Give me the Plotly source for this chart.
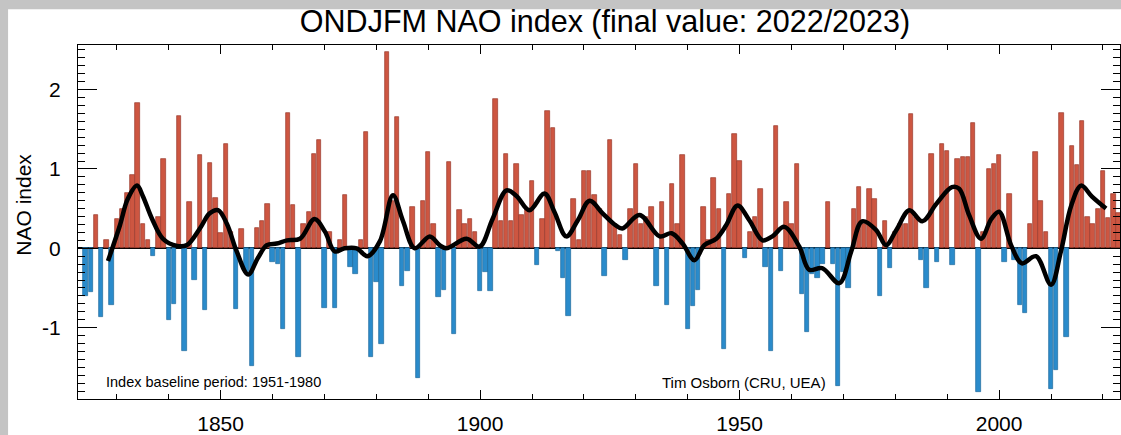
import plotly.graph_objects as go

# ---- data ----
years = list(range(1824, 2024))
nao = [
    -0.60, -0.55, 0.42, -0.87, 0.10, -0.71,                        # 1824-1829
    0.37, 0.50, 0.70, 0.92, 1.83, 0.30, 0.10, -0.10, 0.40, 1.12,   # 1830s
    -0.90, -0.70, 1.67, -1.29, 0.58, -0.40, 1.18, -0.78, 1.07, 0.63,  # 1840s
    0.19, 1.31, 0.20, -0.77, 0.24, -0.30, -1.48, 0.25, 0.35, 0.56,   # 1850s
    -0.17, -0.20, -1.02, 1.71, 0.54, -1.37, 0.30, 0.46, 1.19, 1.37,  # 1860s
    -0.75, 0.20, -0.75, 0.10, 0.67, -0.23, -0.33, 0.10, 1.46, -1.37, # 1870s
    -0.42, -1.21, 2.48, 0.60, 1.66, -0.48, -0.29, 0.52, -1.63, 0.60, # 1880s
    1.21, 0.31, -0.62, -0.52, 1.09, -1.08, 0.48, 0.30, 0.37, 0.20,   # 1890s
    -0.54, -0.30, -0.54, 1.88, 0.35, 1.19, 0.35, 1.06, 0.42, 0.50,   # 1900s
    0.85, -0.21, 0.37, 1.73, 1.52, -0.04, -0.37, -0.85, 0.62, 0.10,  # 1910s
    0.98, 0.98, 0.67, 0.50, -0.35, 1.37, 0.31, 0.17, -0.15, 0.50,    # 1920s
    1.06, 0.30, 0.40, 0.52, -0.48, 0.58, -0.71, 0.81, 0.30, 1.17,    # 1930s
    -1.02, -0.73, -0.52, 0.52, 0.10, 0.88, 0.50, -1.27, 0.69, 1.44,  # 1940s
    1.10, -0.12, 0.20, 0.40, 0.75, -0.23, -1.29, 1.54, -0.29, 0.58,  # 1950s
    0.30, 1.06, -0.58, -1.06, -0.33, -0.37, -0.20, 0.58, -0.20, -1.73,  # 1960s
    -0.30, -0.50, 0.50, 0.77, 0.30, 0.75, 0.62, -0.60, 0.35, -0.25,  # 1970s
    0.20, 0.30, 0.30, 1.69, 0.40, -0.15, -0.50, 1.19, -0.17, 1.31,   # 1980s
    1.23, -0.21, 1.13, 1.15, 1.15, 1.58, -1.81, 0.20, 1.00, 1.06,    # 1990s
    1.17, -0.17, 0.69, -0.15, -0.71, -0.81, 0.30, 1.21, 0.60, 0.20,  # 2000s
    -1.77, -1.54, 1.71, -1.12, 1.29, 1.05, 1.60, 0.40, 0.30, 0.50,   # 2010s
    0.98, 0.38, 0.69, 0.45,                                          # 2020s
]

smooth_years = [1828.3, 1830.6, 1832.1, 1833.9, 1835.0, 1836.8, 1838.9, 1841.6, 1843.5,
                1846.0, 1847.9, 1849.5, 1851.2, 1853.1, 1855.3, 1857.2, 1858.9, 1860.8,
                1862.8, 1865.3, 1868.1, 1870.1, 1872.0, 1873.9, 1876.2, 1878.3, 1880.7,
                1883.2, 1885.1, 1887.4, 1890.3, 1892.2, 1893.5, 1897.4, 1899.9, 1902.4,
                1905.1, 1907.0, 1909.5, 1912.4, 1914.3, 1916.6, 1918.8, 1921.1, 1923.6,
                1925.9, 1927.4, 1930.7, 1934.6, 1936.9, 1939.0, 1941.3, 1943.2, 1945.5,
                1947.4, 1949.6, 1951.9, 1954.4, 1956.3, 1958.6, 1961.5, 1963.4, 1965.9,
                1969.2, 1971.5, 1973.6, 1976.3, 1978.2, 1980.2, 1982.7, 1985.2, 1987.9,
                1990.9, 1992.3, 1994.2, 1996.5, 1998.5, 2000.0, 2002.3, 2004.4, 2007.1,
                2010.0, 2011.9, 2013.9, 2015.8, 2017.9, 2020.6]
smooth_vals = [-0.16, 0.29, 0.62, 0.79, 0.66, 0.37, 0.12, 0.03, 0.04,
               0.25, 0.44, 0.48, 0.31, -0.04, -0.33, -0.12, 0.04, 0.06,
               0.10, 0.12, 0.37, 0.21, -0.04, 0.00, 0.00, -0.10, 0.09,
               0.67, 0.35, 0.00, 0.15, 0.04, 0.00, 0.12, 0.02, 0.37,
               0.73, 0.66, 0.48, 0.69, 0.46, 0.15, 0.35, 0.60, 0.44,
               0.30, 0.25, 0.42, 0.15, 0.19, 0.06, -0.15, 0.04, 0.12,
               0.29, 0.54, 0.35, 0.10, 0.15, 0.27, 0.02, -0.27, -0.25,
               -0.44, -0.04, 0.34, 0.23, 0.04, 0.23, 0.48, 0.34, 0.56,
               0.77, 0.75, 0.42, 0.12, 0.37, 0.46, 0.04, -0.19, -0.10,
               -0.46, -0.04, 0.54, 0.79, 0.65, 0.50]

title_text = "ONDJFM NAO index (final value: 2022/2023)"
ylabel = "NAO index"
note_left = "Index baseline period: 1951-1980"
note_right = "Tim Osborn (CRU, UEA)"
xtick_vals = [1850, 1900, 1950, 2000]
ytick_vals = [-1, 0, 1, 2]

RED = "#cd5641"
RED_EDGE = "#9a3b2e"
BLUE = "#2a8bcb"
BLUE_EDGE = "#1f6a9c"
FONT = "Liberation Sans, Arial, Helvetica, sans-serif"

W, H = 1121, 435
L, R, T, B = 78, 0, 45, 33

fill = [RED if v >= 0 else BLUE for v in nao]
edge = [RED_EDGE if v >= 0 else BLUE_EDGE for v in nao]

fig = go.Figure()
fig.add_trace(go.Bar(x=years, y=nao, width=0.85,
                     marker=dict(color=fill, line=dict(color=edge, width=0.7)),
                     showlegend=False))
fig.add_trace(go.Scatter(x=smooth_years, y=smooth_vals, mode="lines",
                         line=dict(color="black", width=4.5, shape="spline", smoothing=1.0),
                         showlegend=False))

plot_w = W - L - R
plot_h = H - T - B

def px_x(p):
    return (p - L) / plot_w

def px_y(p):
    return (H - B - p) / plot_h

fig.update_layout(
    width=W, height=H,
    margin=dict(l=L, r=R, t=T, b=B, pad=0),
    paper_bgcolor="#c4c4c4",
    plot_bgcolor="white",
    font=dict(family=FONT, color="black"),
    bargap=0,
    title=dict(text=title_text, x=605 / W, xanchor="center", y=1 - 21 / H,
               yanchor="middle", yref="container", xref="container",
               font=dict(size=30.5, family=FONT, color="black")),
    shapes=[dict(type="rect", xref="paper", yref="paper",
                 x0=px_x(8), x1=px_x(W + 5), y0=px_y(H + 5), y1=px_y(9),
                 fillcolor="white", line=dict(width=0), layer="below")],
    annotations=[
        dict(text=ylabel, textangle=-90, x=px_x(24), y=px_y(206), xref="paper", yref="paper",
             showarrow=False, xanchor="center", yanchor="middle", font=dict(size=21)),
        dict(text=note_left, x=px_x(104), y=px_y(385), xref="paper", yref="paper",
             showarrow=False, xanchor="left", yanchor="middle", font=dict(size=14.5)),
        dict(text=note_right, x=px_x(829), y=px_y(385), xref="paper", yref="paper",
             showarrow=False, xanchor="right", yanchor="middle", font=dict(size=15)),
    ],
)

fig.update_xaxes(range=[1822.52, 2023.29], tickvals=xtick_vals,
                 ticks="inside", ticklen=9, tickwidth=1, tickcolor="black",
                 showline=True, linecolor="black", linewidth=1.2, mirror="allticks",
                 showgrid=False, zeroline=False,
                 tickfont=dict(size=21, family=FONT), ticklabelstandoff=6,
                 minor=dict(dtick=10, tick0=1850, ticks="inside", ticklen=5,
                            tickcolor="black", showgrid=False))
fig.update_yaxes(range=[-1.9, 2.5625], tickvals=ytick_vals, ticktext=["-1", "0", "1", "2"],
                 ticks="inside", ticklen=19, tickwidth=1, tickcolor="black",
                 showline=True, linecolor="black", linewidth=1.2, mirror="allticks",
                 showgrid=False, zeroline=True, zerolinecolor="black", zerolinewidth=1.5,
                 tickfont=dict(size=21, family=FONT), ticklabelstandoff=12,
                 minor=dict(dtick=0.1, tick0=0, ticks="inside", ticklen=7,
                            tickcolor="black", showgrid=False))

fig.write_html("out.html", config={"displayModeBar": False},
               post_script="document.body.style.margin='0';document.body.style.overflow='hidden';")
